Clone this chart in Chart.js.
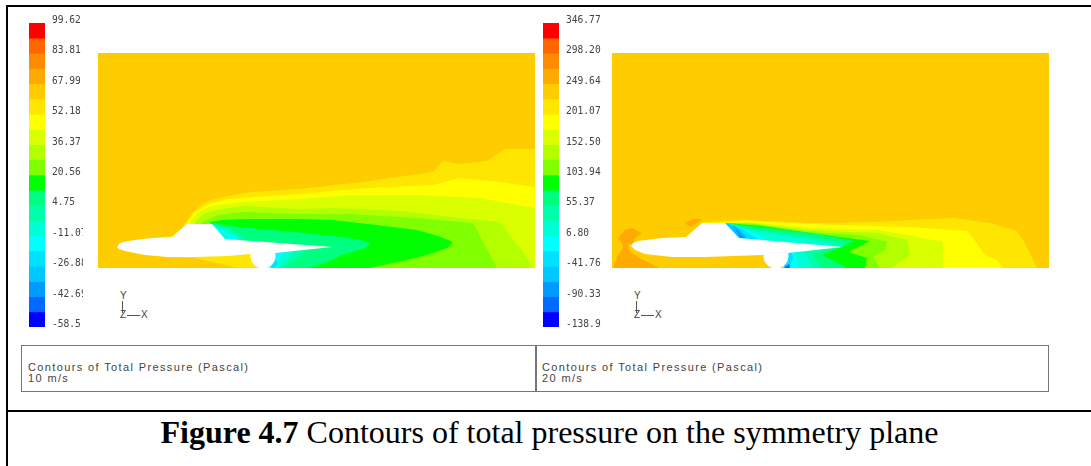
<!DOCTYPE html>
<html>
<head>
<meta charset="utf-8">
<title>Contours of total pressure</title>
<script src="https://cdn.jsdelivr.net/npm/chart.js@4"></script>
<style>
  html, body { margin: 0; padding: 0; background: #fff; }
  #page { position: relative; width: 1091px; height: 466px; overflow: hidden; }
  canvas { position: absolute; }
  .rule { position: absolute; background: #000; }
  .box { position: absolute; top: 345px; height: 45px; border: 1px solid #777; box-sizing: content-box; }
  .note { position: absolute; font: 11px "Liberation Sans", sans-serif; letter-spacing: 1.37px; color: #444; white-space: nowrap; line-height: 11px; }
  .triad { position: absolute; font: 10px "Liberation Sans", sans-serif; color: #444; line-height: 10px; }
  .stroke { position: absolute; background: #555; }
  #caption { position: absolute; left: 0; width: 1099px; top: 414px; text-align: center; font: 32px "Liberation Serif", serif; color: #000; white-space: nowrap; }
</style>
</head>
<body>
<div id="page">
  <div class="rule" style="left:6px;top:5px;width:1085px;height:2px"></div>
  <div class="rule" style="left:6px;top:5px;width:2px;height:461px"></div>
  <div class="rule" style="left:6px;top:410px;width:1085px;height:2px"></div>

  <canvas id="bar10" width="83" height="340" style="left:0;top:0"></canvas>
  <canvas id="field10" width="437" height="215" style="left:98px;top:53px"></canvas>
  <canvas id="bar20" width="90" height="340" style="left:514px;top:0"></canvas>
  <canvas id="field20" width="437" height="215" style="left:612px;top:53px"></canvas>

  <div class="triad" style="left:120px;top:291px">Y</div>
  <div class="stroke" style="left:122px;top:301px;width:1px;height:12px"></div>
  <div class="triad" style="left:120px;top:310px">Z</div>
  <div class="stroke" style="left:127px;top:315px;width:13px;height:1px"></div>
  <div class="triad" style="left:141px;top:310px">X</div>
  <div class="triad" style="left:634px;top:291px">Y</div>
  <div class="stroke" style="left:636px;top:301px;width:1px;height:12px"></div>
  <div class="triad" style="left:634px;top:310px">Z</div>
  <div class="stroke" style="left:641px;top:315px;width:13px;height:1px"></div>
  <div class="triad" style="left:655px;top:310px">X</div>

  <div class="box" style="left:21px;width:513px"></div>
  <div class="box" style="left:536px;width:511px"></div>
  <div class="note" style="left:28px;top:362px">Contours of Total Pressure (Pascal)<br>10 m/s</div>
  <div class="note" style="left:542px;top:362px">Contours of Total Pressure (Pascal)<br>20 m/s</div>

  <div id="caption"><b>Figure 4.7</b> Contours of total pressure on the symmetry plane</div>
</div>

<script>
// colour bar, top band first
const bandColors = ['#ff0000', '#ff6600', '#ff8c00', '#ffaa00', '#ffcc00', '#ffe600', '#ffff00', '#d9ff00', '#b3ff00', '#80ff00',
  '#00ff00', '#00ff80', '#00ffaa', '#00ffd4', '#00ffff', '#00e1ff', '#00c8ff', '#009bff', '#0069ff', '#0000ff'];

const edges10 = [99.62, 91.71, 83.81, 75.90, 67.99, 60.09, 52.18, 44.27, 36.37, 28.46, 20.56,
  12.65, 4.75, -3.16, -11.07, -18.98, -26.88, -34.79, -42.69, -50.60, -58.50];
const ticks10 = [99.62, 83.81, 67.99, 52.18, 36.37, 20.56, 4.75, -11.07, -26.88, -42.69, -58.50];
const labels10 = ['99.62', '83.81', '67.99', '52.18', '36.37', '20.56', '4.75', '-11.07', '-26.88', '-42.69', '-58.5'];

const edges20 = [346.77, 322.49, 298.20, 273.92, 249.64, 225.35, 201.07, 176.78, 152.50, 128.22, 103.94,
  79.65, 55.37, 31.08, 6.80, -17.48, -41.76, -66.05, -90.33, -114.62, -138.90];
const ticks20 = [346.77, 298.20, 249.64, 201.07, 152.50, 103.94, 55.37, 6.80, -41.76, -90.33, -138.90];
const labels20 = ['346.77', '298.20', '249.64', '201.07', '152.50', '103.94', '55.37', '6.80', '-41.76', '-90.33', '-138.9'];

// contour regions at 10 m/s, outermost first; x along the plane, y above the ground
const amber10 = [[54,29],[74,32],[84,40],[94,55],[107,66],[124,71],[154,76],[202,79],[264,86],[335,96],[345,107],[362,104],[389,107],[407,119],[437,119],[437,0],[140,0],[97,10],[64,11]];
const yellow10 = [[89,45],[97,56],[110,64],[130,69],[170,72],[202,74],[269,80],[335,83],[362,90],[402,86],[437,81],[437,0],[177,0],[177,18],[127,22],[100,30]];
const chartreuse10 = [[92,46],[100,56],[114,62],[147,66],[202,69],[252,73],[319,73],[382,70],[437,60],[437,0],[177,0],[177,18],[127,22],[100,30]];
const lime10 = [[97,46],[107,55],[124,59],[147,62],[202,59],[235,60],[302,57],[362,50],[402,46],[415,28],[422,20],[435,0],[177,0],[177,18],[127,22],[100,30]];
const grass10 = [[104,46],[120,53],[147,56],[202,54],[252,54],[319,50],[375,45],[399,0],[177,0],[177,18],[127,22],[100,30]];
const green10 = [[112,46],[125,48],[147,49],[202,49],[235,48],[279,43],[319,38],[340,32],[355,26],[349,20],[335,15],[317,10],[295,5],[272,0],[177,0],[177,18],[127,22]];
const spring10 = [[114,45],[140,41],[197,36],[244,31],[262,28],[272,25],[267,20],[244,13],[230,6],[210,0],[177,0],[177,18],[127,22]];
const mint10 = [[114,44],[134,39],[146,31],[150,22],[210,19],[194,6],[184,0],[177,0],[177,18],[127,22]];
const aqua10 = [[114,44],[128,38],[139,31],[150,22],[196,17],[186,5],[180,0],[177,0],[177,18],[127,22]];
const cyan10 = [[114,44],[122,36],[131,30],[127,22],[187,16],[179,6],[174,0],[165,5],[165,15]];
const sky10 = [[177,9],[180,4],[176,0],[173,0]];
const car10 = [[19,21],[21,24],[25,26],[37,28],[54,30],[74,31],[89,44],[114,44],[127,29],[234,21],[177,15],[152,14],[130,12],[97,11],[70,11],[47,13],[27,17],[21,19]];
const wheel10 = [[165,12]];

// contour regions at 20 m/s
const patchA20 = [[6,30],[13,38],[20,40],[30,35],[23,30],[21,25],[16,23],[18,16],[31,8],[46,1],[46,0],[1,0],[5,11],[11,20],[10,25]];
const patchB20 = [[73,45],[81,49],[90,49],[85,45],[78,41]];
const amber20 = [[90,46],[133,48],[198,45],[265,46],[298,48],[341,50],[378,45],[405,37],[411,28],[425,0],[176,0],[177,18],[127,22],[100,30]];
const yellow20 = [[93,45],[133,47],[198,44],[265,42],[298,41],[355,37],[361,30],[373,13],[385,8],[391,0],[176,0],[177,18],[127,22],[100,30]];
const chartreuse20 = [[100,45],[136,46],[198,40],[265,38],[295,33],[331,26],[331,6],[330,0],[176,0],[177,18],[127,22]];
const lime20 = [[106,45],[140,45],[198,38],[241,36],[265,35],[295,28],[298,13],[280,0],[176,0],[177,18],[127,22]];
const grass20 = [[110,45],[143,44],[198,36],[248,33],[275,26],[273,18],[261,11],[268,0],[176,0],[177,18],[127,22]];
const green20 = [[113,45],[150,42],[198,35],[258,27],[236,16],[255,10],[253,0],[176,0],[177,18],[127,22]];
const spring20 = [[113,45],[156,40],[200,35],[243,27],[228,21],[210,13],[235,0],[176,0],[177,18],[127,22]];
const mint20 = [[115,45],[150,38],[200,31],[233,25],[231,21],[200,15],[210,0],[176,0],[177,18],[127,22]];
const aqua20 = [[115,45],[140,37],[200,29],[223,23],[193,16],[200,0],[176,0],[177,18],[127,22]];
const cyan20 = [[115,45],[135,38],[153,30],[150,22],[183,16],[186,0],[176,0],[177,18],[127,22]];
const sky20 = [[114,45],[130,39],[146,29],[145,22],[180,16],[181,10],[178,0],[172,0],[172,18],[125,25]];
const azure20 = [[113,45],[125,41],[136,30],[127,25]];
const blue20 = [[121,43],[126,38],[133,30],[128,30]];
const deep20 = [[172,0],[178,0],[177,4]];
const car20 = [[19,22],[21,25],[26,27],[50,30],[74,31],[90,45],[113,45],[127,30],[230,21],[176,15],[150,13],[93,11],[60,11],[33,14],[23,18]];
const wheel20 = [[164,12]];

const fieldBase = [[0,0],[437,0],[437,215],[0,215]];

function region (pts, color) {
  return {
    type: 'scatter',
    data: pts.map(p => ({ x: p[0], y: p[1] })),
    showLine: true,
    fill: 'shape',
    backgroundColor: color,
    borderColor: color,
    borderWidth: 0,
    pointRadius: 0,
    tension: 0
  }
}

function drawField (id, layers, wheel) {
  const wheelSet = {
    type: 'scatter',
    data: wheel.map(p => ({ x: p[0], y: p[1] })),
    backgroundColor: '#fff',
    borderWidth: 0,
    pointRadius: 12.5
  }
  new Chart(document.getElementById(id), {
    data: {
      // chart.js paints the first dataset last
      datasets: [wheelSet].concat(layers.map(l => region(l[0], l[1])).reverse())
    },
    options: {
      responsive: false,
      animation: false,
      events: [],
      plugins: { legend: { display: false }, tooltip: { enabled: false } },
      layout: { padding: 0, autoPadding: false },
      scales: {
        x: { type: 'linear', min: 0, max: 437, display: false },
        y: { type: 'linear', min: 0, max: 215, display: false }
      }
    }
  })
}

function drawBar (id, edges, tickValues, tickLabels, axisWidth) {
  const datasets = bandColors.map((color, i) => ({
    data: [[edges[i + 1], edges[i]]],
    backgroundColor: color,
    borderWidth: 0,
    grouped: false,
    barPercentage: 1,
    categoryPercentage: 1
  }))
  new Chart(document.getElementById(id), {
    type: 'bar',
    data: { labels: ['band'], datasets },
    options: {
      responsive: false,
      animation: false,
      events: [],
      plugins: { legend: { display: false }, tooltip: { enabled: false } },
      layout: { padding: { left: 29, top: 23, bottom: 13, right: 0 } },
      scales: {
        x: { display: false },
        y: {
          position: 'right',
          min: edges[edges.length - 1],
          max: edges[0],
          border: { display: false },
          grid: { display: false, drawTicks: false },
          afterBuildTicks: scale => { scale.ticks = tickValues.map(value => ({ value })) },
          afterFit: scale => { scale.width = axisWidth },
          ticks: {
            autoSkip: false,
            maxRotation: 0,
            padding: 7,
            labelOffset: -2.5,
            color: '#444',
            font: { family: 'DejaVu Sans Mono', size: 9.6 },
            callback: (value, index) => tickLabels[index]
          }
        }
      }
    }
  })
}

drawBar('bar10', edges10, ticks10, labels10, 38)
drawBar('bar20', edges20, ticks20, labels20, 45)

drawField('field10', [
  [fieldBase, bandColors[4]],
  [amber10, bandColors[5]],
  [yellow10, bandColors[6]],
  [chartreuse10, bandColors[7]],
  [lime10, bandColors[8]],
  [grass10, bandColors[9]],
  [green10, bandColors[10]],
  [spring10, bandColors[11]],
  [mint10, bandColors[12]],
  [aqua10, bandColors[13]],
  [cyan10, bandColors[14]],
  [sky10, bandColors[15]],
  [car10, '#fff']
], wheel10)

drawField('field20', [
  [fieldBase, bandColors[4]],
  [patchA20, bandColors[3]],
  [patchB20, bandColors[3]],
  [amber20, bandColors[5]],
  [yellow20, bandColors[6]],
  [chartreuse20, bandColors[7]],
  [lime20, bandColors[8]],
  [grass20, bandColors[9]],
  [green20, bandColors[10]],
  [spring20, bandColors[11]],
  [mint20, bandColors[12]],
  [aqua20, bandColors[13]],
  [cyan20, bandColors[14]],
  [sky20, bandColors[15]],
  [azure20, bandColors[16]],
  [blue20, bandColors[17]],
  [deep20, bandColors[18]],
  [car20, '#fff']
], wheel20)
</script>
</body>
</html>
